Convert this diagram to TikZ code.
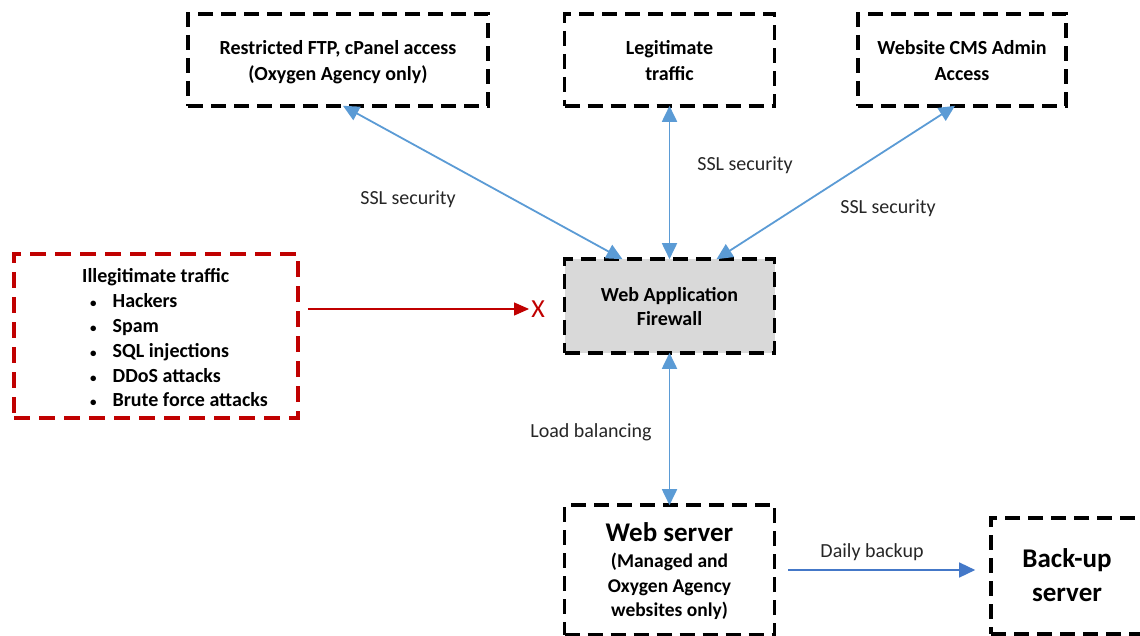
\documentclass[tikz,border=0pt]{standalone}
\usepackage{fontspec}
\setmainfont{Carlito}
\usetikzlibrary{arrows.meta}
\definecolor{arrblue}{RGB}{91,155,213}
\definecolor{bkblue}{RGB}{68,120,200}
\definecolor{darkred}{RGB}{192,0,0}
\definecolor{wafgray}{RGB}{217,217,217}
\tikzset{
  box/.style={draw=black, line width=3.6pt, dash pattern=on 15pt off 8pt, align=center,
    font=\fontsize{20}{26}\selectfont\bfseries, inner sep=0pt},
  redbox/.style={draw=darkred, line width=3.6pt, dash pattern=on 16pt off 9pt,
    font=\fontsize{20}{24.8}\selectfont\bfseries, inner sep=0pt},
  link/.style={draw=arrblue, line width=1.8pt, {Triangle[length=16pt,width=15pt]}-{Triangle[length=16pt,width=15pt]}},
  onelink/.style={draw=bkblue, line width=1.4pt, -{Triangle[length=16pt,width=15pt]}},
  redlink/.style={draw=darkred, line width=1.2pt, -{Triangle[length=15pt,width=13pt]}},
  lbl/.style={font=\fontsize{20}{24}\selectfont, text=black!85, inner sep=0pt}
}
\newcommand{\smbul}{{\fontsize{13}{13}\selectfont\textbullet}}
\newcommand{\shiftdn}[2]{\raisebox{-#1}[\height][\depth]{#2}}
\begin{document}
\begin{tikzpicture}[x=1pt,y=-1pt]
\useasboundingbox (0,0) rectangle (1140,636);
\clip (0,0) rectangle (1140,636);
\node[box, minimum width=300pt, minimum height=92pt] (ftp) at (338,60) {\shiftdn{2.5pt}{\begin{tabular}{@{}c@{}}Restricted FTP, cPanel access\\(Oxygen Agency only)\end{tabular}}};
\node[box, minimum width=210pt, minimum height=92pt] (legit) at (669.5,60) {\shiftdn{2.5pt}{\begin{tabular}{@{}c@{}}Legitimate\\traffic\end{tabular}}};
\node[box, minimum width=208pt, minimum height=92pt] (cms) at (962,60) {\shiftdn{2.5pt}{\begin{tabular}{@{}c@{}}Website CMS Admin\\Access\end{tabular}}};
\node[box, fill=wafgray, minimum width=210pt, minimum height=94pt, font=\fontsize{20}{24}\selectfont\bfseries] (waf) at (669.5,306) {\shiftdn{3pt}{\begin{tabular}{@{}c@{}}Web Application\\Firewall\end{tabular}}};
\node[box, minimum width=210pt, minimum height=130pt, font=\fontsize{19.5}{24.5}\selectfont\bfseries] (web) at (669.5,570) {\shiftdn{3pt}{\begin{tabular}{@{}c@{}}{\fontsize{27}{30}\selectfont Web server}\\[2pt](Managed and\\Oxygen Agency\\websites only)\end{tabular}}};
\node[box, minimum width=152pt, minimum height=116pt, font=\fontsize{27}{34}\selectfont\bfseries] (backup) at (1067,576) {\shiftdn{2pt}{\begin{tabular}{@{}c@{}}Back-up\\server\end{tabular}}};
\node[redbox, minimum width=284pt, minimum height=164pt] (ill) at (156,336) {%
\hspace{46pt}\shiftdn{4pt}{\begin{tabular}{@{}c@{\hspace{16pt}}l@{}}
\multicolumn{2}{@{}l@{}}{\hspace{-8pt}Illegitimate traffic}\\
\smbul & Hackers\\
\smbul & Spam\\
\smbul & SQL injections\\
\smbul & DDoS attacks\\
\smbul & Brute force attacks
\end{tabular}}};
\node[text=darkred, font=\fontsize{26}{28}\selectfont, inner sep=0pt] (xmark) at (538,309) {X};
\draw[link] ([xshift=5pt,yshift=2pt]ftp.south) -- ([xshift=-47pt,yshift=-2pt]waf.north);
\draw[link] ([yshift=2pt]legit.south) -- ([yshift=-2pt]waf.north);
\draw[link] ([xshift=-7pt,yshift=2pt]cms.south) -- ([xshift=47pt,yshift=-2pt]waf.north);
\draw[link] ([yshift=2pt]waf.south) -- ([yshift=-2pt]web.north);
\draw[onelink] ([xshift=12pt]web.east |- 0,570) -- ([xshift=-14pt]backup.west |- 0,570);
\draw[redlink] ([xshift=8pt]ill.east |- xmark.west) -- ([xshift=-2pt]xmark.west);
\node[lbl] (l1) at (408,199) {SSL security};
\node[lbl] (l2) at (745,165) {SSL security};
\node[lbl] (l3) at (888,208) {SSL security};
\node[lbl] (l4) at (591,432) {Load balancing};
\node[lbl] (l5) at (872,552) {Daily backup};
\end{tikzpicture}
\end{document}
